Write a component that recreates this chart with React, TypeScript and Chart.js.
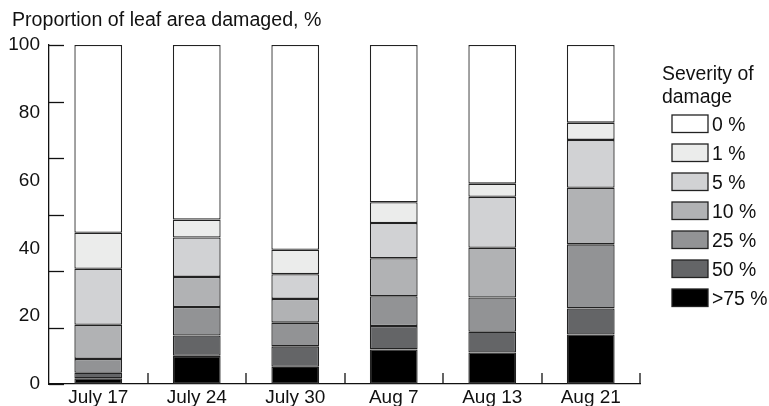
import React, { useEffect, useRef } from "react";
import { Chart, registerables } from "chart.js";

Chart.register(...registerables);

const categories = ["July 17", "July 24", "July 30", "Aug 7", "Aug 13", "Aug 21"];
const severityLabels = [">75 %", "50 %", "25 %", "10 %", "5 %", "1 %", "0 %"];
const over75 = [1.7, 8.3, 5.1, 10.2, 9.3, 14.6];
const pct50 = [1.6, 6.0, 6.0, 6.9, 6.1, 7.7];
const pct25 = [4.1, 8.4, 7.0, 8.8, 10.1, 18.9];
const pct10 = [10.1, 8.9, 7.0, 11.2, 14.7, 16.7];
const pct5 = [16.5, 11.6, 7.3, 10.4, 15.0, 14.1];
const pct1 = [10.6, 5.3, 7.2, 6.1, 3.9, 5.1];
const pct0 = [55.4, 51.5, 60.4, 46.4, 40.9, 22.9];
const yTickLabels = [0, 20, 40, 60, 80, 100];
const yTickMarks = [0, 100 / 6, 200 / 6, 50, 400 / 6, 500 / 6, 100];

const seriesValues = [over75, pct50, pct25, pct10, pct5, pct1, pct0];
const fills = ["#000000", "#646567", "#929395", "#b1b2b4", "#d1d2d4", "#ebeceb", "#ffffff"];

const FONT = "'Liberation Sans', Arial, sans-serif";

const decorPlugin = {
  id: "decor",
  afterDraw(chart: any) {
    const ctx = chart.ctx;
    const x = chart.scales.x;
    const y = chart.scales.y;
    const area = chart.chartArea;
    ctx.save();
    ctx.strokeStyle = "#111";
    ctx.lineWidth = 1.3;
    // y tick marks pointing inward
    yTickMarks.forEach((v) => {
      const py = Math.round(y.getPixelForValue(v)) + 0.5;
      ctx.beginPath();
      ctx.moveTo(area.left, py);
      ctx.lineTo(area.left + 15, py);
      ctx.stroke();
    });
    // x tick marks at category boundaries
    const n = categories.length;
    for (let i = 1; i <= n; i++) {
      const bx = i === n ? area.right : Math.round((x.getPixelForValue(i - 1) + x.getPixelForValue(i)) / 2);
      ctx.beginPath();
      ctx.moveTo(bx, area.bottom);
      ctx.lineTo(bx, area.bottom - 11);
      ctx.stroke();
    }
    // title
    ctx.fillStyle = "#111";
    ctx.font = "19.6px " + FONT;
    ctx.textBaseline = "alphabetic";
    ctx.textAlign = "left";
    ctx.fillText("Proportion of leaf area damaged, %", 12, 26);
    // legend
    ctx.font = "19.4px " + FONT;
    ctx.fillText("Severity of", 662, 80);
    ctx.fillText("damage", 662, 103);
    const ds = chart.data.datasets;
    for (let k = ds.length - 1, row = 0; k >= 0; k--, row++) {
      const top = 115 + row * 29;
      ctx.fillStyle = ds[k].backgroundColor;
      ctx.fillRect(672, top, 36, 17.5);
      ctx.strokeStyle = "#222";
      ctx.lineWidth = 1.3;
      ctx.strokeRect(672, top, 36, 17.5);
      ctx.fillStyle = "#111";
      ctx.textBaseline = "alphabetic";
      ctx.fillText(ds[k].label, 712, top + 15.5);
    }
    ctx.restore();
  },
};

export default function App() {
  const ref = useRef<HTMLCanvasElement>(null);
  useEffect(() => {
    if (!ref.current) return;
    const chart = new Chart(ref.current, {
      type: "bar",
      data: {
        labels: categories,
        datasets: seriesValues.map((vals, i) => ({
          label: severityLabels[i],
          data: vals,
          backgroundColor: fills[i],
          borderColor: "#222",
          borderWidth: 1.3,
          borderSkipped: false,
          categoryPercentage: 1,
          barPercentage: 0.485,
        })),
      },
      options: {
        responsive: false,
        animation: false,
        layout: { padding: { top: 45, right: 129, left: 0, bottom: 0 } },
        plugins: { legend: { display: false }, tooltip: { enabled: false }, title: { display: false } },
        scales: {
          x: {
            stacked: true,
            grid: { display: false, drawTicks: false },
            border: { display: true, color: "#111", width: 1.3 },
            ticks: { color: "#111", font: { family: FONT, size: 19 }, padding: 2, maxRotation: 0 },
            afterFit: (s: any) => { s.height = 22; },
          },
          y: {
            stacked: true,
            min: 0,
            max: 100,
            grid: { display: false, drawTicks: false },
            border: { display: true, color: "#111", width: 1.3 },
            afterBuildTicks: (s: any) => { s.ticks = yTickLabels.map((v) => ({ value: v })); },
            ticks: { color: "#111", font: { family: FONT, size: 19 }, padding: 9 },
            afterFit: (s: any) => { s.width = 49; },
          },
        },
      },
      plugins: [decorPlugin],
    });
    return () => chart.destroy();
  }, []);
  return (
    <div style={{ position: "absolute", left: 0, top: 0, width: 769, height: 406, background: "#fff" }}>
      <canvas ref={ref} width={769} height={406} />
    </div>
  );
}
